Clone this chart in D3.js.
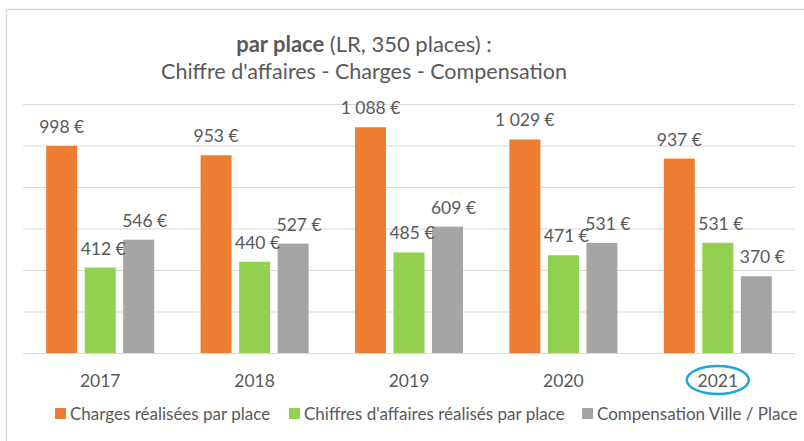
<!DOCTYPE html>
<html lang="fr">

<head>
    <meta charset="UTF-8">
    <title>par place</title>
    <script src="https://cdn.jsdelivr.net/npm/d3@7"></script>
    <style>
        body { margin: 0; background: #fff; }
        text { font-family: Lato, "Open Sans", sans-serif; fill: #595959; }
    </style>
</head>

<body>
    <div id="my_dataviz"></div>
</body>
<script>
    // data
    var years = ["2017", "2018", "2019", "2020", "2021"];
    var series = ["Charges réalisées par place", "Chiffres d'affaires réalisés par place", "Compensation Ville / Place"];
    var charges = [998, 953, 1088, 1029, 937];
    var chiffres = [412, 440, 485, 471, 531];
    var compensation = [546, 527, 609, 531, 370];
    var yTicks = [0, 200, 400, 600, 800, 1000, 1200];

    var color = ['#ED7D31', '#92D050', '#A5A5A5'];
    var labelShift = [0, 3, 6];

    var values = [charges, chiffres, compensation];
    var data = [];
    years.forEach(function(y, i) {
        series.forEach(function(s, j) {
            data.push({year: y, serie: s, k: j, value: values[j][i]});
        });
    });

    var width = 804, height = 441;

    var svg = d3.select("#my_dataviz")
        .append("svg")
        .attr("width", width)
        .attr("height", height);

    // chart frame (goes past the right and bottom edges)
    svg.append("rect")
        .attr("x", 6.5)
        .attr("y", 9.5)
        .attr("width", 820)
        .attr("height", 460)
        .attr("fill", "none")
        .attr("stroke", "#d9d9d9")
        .attr("stroke-width", 1.5);

    // title
    var title = svg.append("text")
        .attr("x", 364)
        .attr("y", 52)
        .attr("text-anchor", "middle")
        .style("font-size", "22px");
    title.append("tspan").style("font-weight", "bold").text("par place");
    title.append("tspan").text(" (LR, 350 places) :");

    svg.append("text")
        .attr("x", 364)
        .attr("y", 79)
        .attr("text-anchor", "middle")
        .style("font-size", "21.5px")
        .text("Chiffre d'affaires - Charges - Compensation");

    // scales
    var x0 = d3.scaleBand()
        .domain(years)
        .range([23, 795]);
    var x1 = d3.scaleBand()
        .domain(series)
        .range([0, 108])
        .paddingInner(0.195);
    var y = d3.scaleLinear()
        .domain([0, 1200])
        .range([353, 104]);

    // gridlines
    svg.append("g")
        .attr("transform", "translate(23,0)")
        .call(d3.axisLeft(y).tickValues(yTicks).tickSize(-772).tickFormat(""))
        .call(function(g) { g.select(".domain").remove(); })
        .selectAll("line")
        .attr("stroke", "#d9d9d9");

    // x axis labels
    svg.append("g")
        .attr("transform", "translate(0,353)")
        .call(d3.axisBottom(x0).tickSize(0).tickPadding(22))
        .call(function(g) { g.select(".domain").remove(); })
        .selectAll("text")
        .style("font-size", "17.5px")
        .attr("fill", "#595959");

    var off = (x0.bandwidth() - 108) / 2;

    // bars
    svg.selectAll("myRect")
        .data(data)
        .enter()
        .append("rect")
        .attr("x", function(d) { return x0(d.year) + off + x1(d.serie); })
        .attr("y", function(d) { return y(d.value); })
        .attr("width", x1.bandwidth())
        .attr("height", function(d) { return y(0) - y(d.value); })
        .attr("fill", function(d) { return color[d.k]; });

    // value labels
    var fmt = function(v) { return d3.format(",")(v).replace(",", " ") + " €"; };
    svg.selectAll("mytext")
        .data(data)
        .enter()
        .append("text")
        .attr("x", function(d) { return x0(d.year) + off + x1(d.serie) + x1.bandwidth() / 2 + labelShift[d.k]; })
        .attr("y", function(d) { return y(d.value) - 13; })
        .attr("text-anchor", "middle")
        .style("font-size", "17.5px")
        .text(function(d) { return fmt(d.value); });

    // circle round 2021
    svg.append("ellipse")
        .attr("cx", x0("2021") + x0.bandwidth() / 2)
        .attr("cy", 380)
        .attr("rx", 31)
        .attr("ry", 14)
        .attr("fill", "none")
        .attr("stroke", "#1AA7E0")
        .attr("stroke-width", 2.5);

    // legend
    var legendX = [55, 289, 582];
    var legend = svg.selectAll("myLegend")
        .data(series)
        .enter()
        .append("g")
        .attr("transform", function(d, i) { return "translate(" + legendX[i] + ",0)"; });
    legend.append("rect")
        .attr("x", 0)
        .attr("y", 408)
        .attr("width", 11)
        .attr("height", 11)
        .attr("fill", function(d, i) { return color[i]; });
    legend.append("text")
        .attr("x", 15)
        .attr("y", 420)
        .style("font-size", "17px")
        .text(function(d) { return d; });

</script>

</html>
